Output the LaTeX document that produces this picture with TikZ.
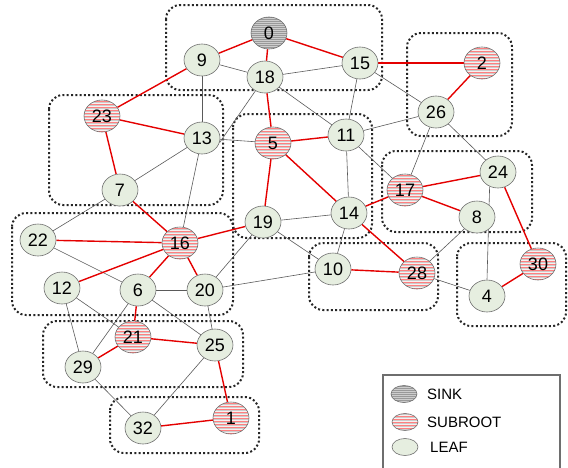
\documentclass[tikz,border=0pt]{standalone}
\usepackage{fontspec}
\setmainfont{Liberation Sans}
\usetikzlibrary{shapes.geometric,backgrounds}
\definecolor{leafc}{RGB}{230,238,224}
\definecolor{subc}{RGB}{248,240,240}
\definecolor{sinkc}{RGB}{205,205,205}
\definecolor{redc}{RGB}{228,0,0}
\definecolor{edgec}{RGB}{90,90,90}
\definecolor{bord}{RGB}{110,110,110}
\tikzset{
  nd/.style={ellipse, draw=bord, line width=0.6pt, minimum width=36pt, minimum height=32pt,
    inner sep=0pt, font=\fontsize{18}{18}\selectfont},
  leaf/.style={nd, fill=leafc},
  subr/.style={nd, fill=subc, path picture={
    \foreach \k in {-18,-15,...,18}{
      \draw[red!50, line width=0.55pt] ([yshift=\k pt]path picture bounding box.west) -- ([yshift=\k pt]path picture bounding box.east);
      \draw[gray!40, line width=0.45pt] ([yshift=\k pt+1.5pt]path picture bounding box.west) -- ([yshift=\k pt+1.5pt]path picture bounding box.east);}}},
  sinkn/.style={nd, fill=sinkc, path picture={
    \foreach \k in {-18,-16,...,18}
      \draw[black!40, line width=0.5pt] ([yshift=\k pt]path picture bounding box.west) -- ([yshift=\k pt]path picture bounding box.east);}},
  icon/.style={minimum width=26pt, minimum height=17pt, font=\tiny},
  grp/.style={draw=black!85, line width=2pt, dash pattern=on 2pt off 2.3pt, rounded corners=14pt},
  tree/.style={draw=redc, line width=1.4pt},
  link/.style={draw=edgec, line width=0.6pt},
  lgtext/.style={anchor=west, inner sep=0pt, font=\fontsize{15}{15}\selectfont},
}
\begin{document}
\begin{tikzpicture}[x=1pt,y=-1pt]
\useasboundingbox (0,0) rectangle (568,467);
% nodes
\node[sinkn] (n0) at (269,33) {0};
\node[leaf] (n9) at (202,60) {9};
\node[leaf] (n18) at (265,77) {18};
\node[leaf] (n15) at (360,63) {15};
\node[subr] (n2) at (482,63) {2};
\node[leaf] (n26) at (436,112) {26};
\node[subr] (n23) at (102,116) {23};
\node[leaf] (n13) at (202,138) {13};
\node[subr] (n5) at (273,143) {5};
\node[leaf] (n11) at (346,135) {11};
\node[subr] (n17) at (405,190) {17};
\node[leaf] (n24) at (498,172) {24};
\node[leaf] (n7) at (120,190) {7};
\node[leaf] (n22) at (38,240) {22};
\node[subr] (n16) at (180,243) {16};
\node[leaf] (n19) at (263,222) {19};
\node[leaf] (n14) at (349,213) {14};
\node[leaf] (n8) at (477,217) {8};
\node[leaf] (n12) at (62,288) {12};
\node[leaf] (n6) at (138,290) {6};
\node[leaf] (n20) at (205,290) {20};
\node[leaf] (n10) at (333,269) {10};
\node[subr] (n28) at (417,273) {28};
\node[subr] (n30) at (538,264) {30};
\node[leaf] (n4) at (487,296) {4};
\node[subr] (n21) at (133,337) {21};
\node[leaf] (n25) at (215,345) {25};
\node[leaf] (n29) at (83,367) {29};
\node[leaf] (n32) at (143,428) {32};
\node[subr] (n1) at (231,418) {1};
\begin{pgfonlayer}{background}
% groups
\draw[grp] (166,5) rectangle (382,90);
\draw[grp] (407,33) rectangle (512,136);
\draw[grp] (49,95) rectangle (223,205);
\draw[grp] (233,114) rectangle (372,238);
\draw[grp] (382,151) rectangle (532,232);
\draw[grp] (12,213) rectangle (233,315);
\draw[grp] (309,243) rectangle (438,310);
\draw[grp] (457,243) rectangle (566,326);
\draw[grp] (43,321) rectangle (243,387);
\draw[grp] (110,397) rectangle (259,453);
% other links
\draw[link] (n9) -- (n18);
\draw[link] (n18) -- (n15);
\draw[link] (n9) -- (n13);
\draw[link] (n18) -- (n11);
\draw[link] (n18) -- (n13.-15);
\draw[link] (n7) -- (n13);
\draw[link] (n13) -- (n5);
\draw[link] (n7) -- (n22);
\draw[link] (n13) -- (n16);
\draw[link] (n15) -- (n11);
\draw[link] (n15) -- (n26);
\draw[link] (n11) -- (n26);
\draw[link] (n11) -- (n14);
\draw[link] (n11) -- (n17);
\draw[link] (n26) -- (n17);
\draw[link] (n26) -- (n24);
\draw[link] (n24.240) -- (n4.north);
\draw[link] (n14) -- (n19);
\draw[link] (n14) -- (n10);
\draw[link] (n19) -- (n10);
\draw[link] (n19) -- (n20);
\draw[link] (n10) -- (n20);
\draw[link] (n8) -- (n28);
\draw[link] (n28) -- (n4);
\draw[link] (n22) -- (n6);
\draw[link] (n12) -- (n21);
\draw[link] (n12) -- (n29);
\draw[link] (n6) -- (n20);
\draw[link] (n6) -- (n29);
\draw[link] (n6) -- (n25);
\draw[link] (n20) -- (n25);
\draw[link] (n29) -- (n32);
\draw[link] (n25) -- (n32);
% tree edges
\draw[tree] (n0) -- (n9);
\draw[tree] (n0) -- (n18);
\draw[tree] (n0) -- (n15);
\draw[tree] (n15) -- (n2);
\draw[tree] (n2) -- (n26);
\draw[tree] (n9) -- (n23);
\draw[tree] (n23) -- (n13);
\draw[tree] (n23) -- (n7);
\draw[tree] (n7) -- (n16);
\draw[tree] (n18) -- (n5);
\draw[tree] (n5) -- (n11);
\draw[tree] (n5) -- (n19);
\draw[tree] (n5) -- (n14);
\draw[tree] (n14) -- (n17);
\draw[tree] (n17) -- (n24);
\draw[tree] (n17) -- (n8);
\draw[tree] (n24) -- (n30);
\draw[tree] (n30) -- (n4);
\draw[tree] (n14) -- (n28);
\draw[tree] (n10) -- (n28);
\draw[tree] (n16) -- (n22);
\draw[tree] (n16) -- (n12);
\draw[tree] (n16) -- (n6);
\draw[tree] (n16) -- (n20);
\draw[tree] (n16) -- (n19);
\draw[tree] (n6) -- (n21);
\draw[tree] (n21) -- (n29);
\draw[tree] (n21) -- (n25);
\draw[tree] (n25) -- (n1);
\draw[tree] (n1) -- (n32);
\end{pgfonlayer}
% legend
\draw[draw=bord, line width=1.2pt] (383,470) -- (383,375) -- (560,375) -- (560,470);
\node[sinkn, icon] (lsink) at (404,394) {};
\node[subr, icon] (lsub) at (405,422) {};
\node[leaf, icon] (lleaf) at (405,447) {};
\node[lgtext] (tsink) at (427,394) {SINK};
\node[lgtext] (tsub) at (427,422) {SUBROOT};
\node[lgtext] (tleaf) at (430,447) {LEAF};
\end{tikzpicture}
\end{document}
